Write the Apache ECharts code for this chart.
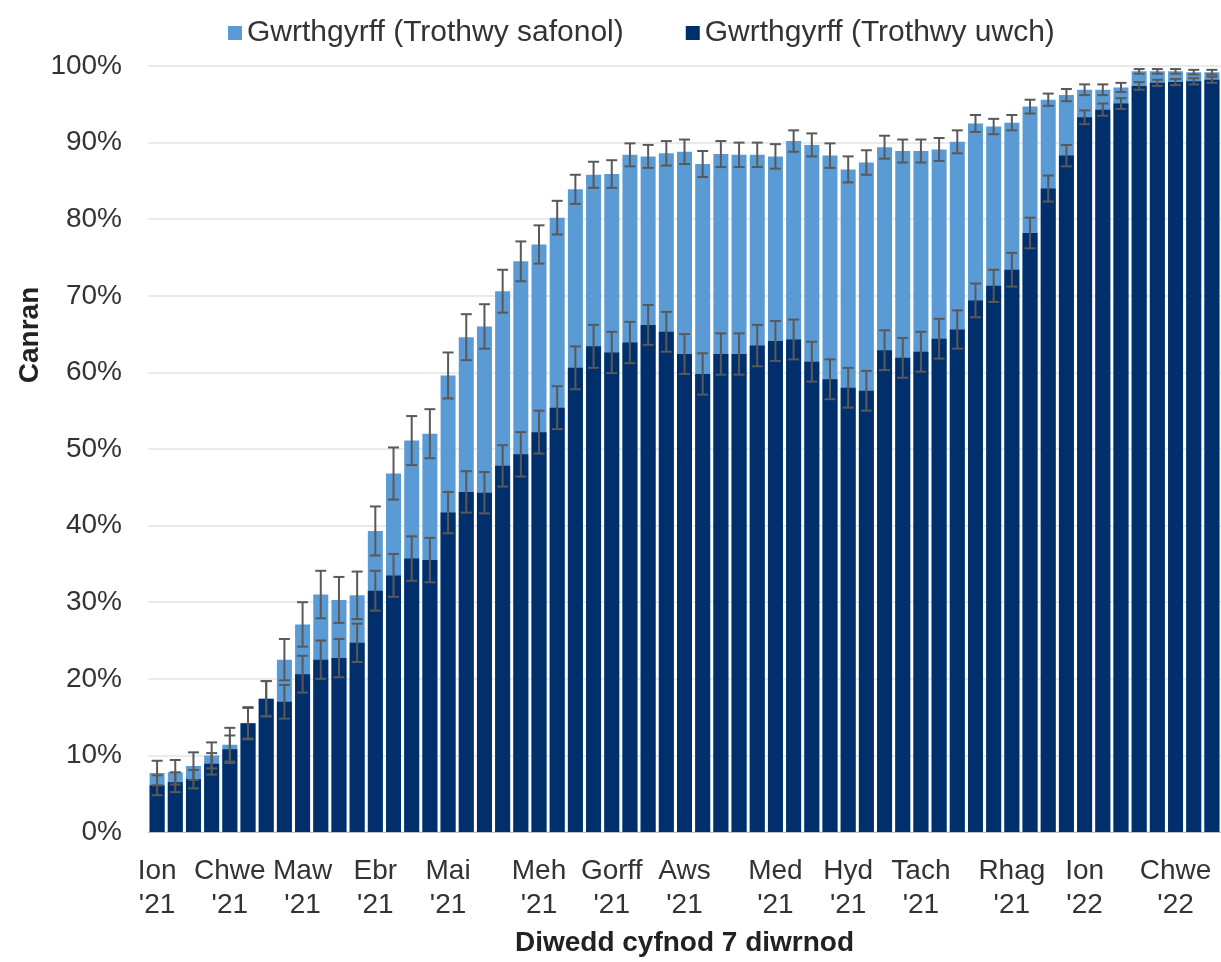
<!DOCTYPE html>
<html>
<head>
<meta charset="utf-8">
<title>Gwrthgyrff</title>
<script src="https://cdn.jsdelivr.net/npm/echarts@6/dist/echarts.min.js"></script>
<style>
  html, body { margin: 0; padding: 0; background: #fff; }
  #chart { width: 1221px; height: 962px; }
</style>
</head>
<body>
<div id="chart"></div>
<script>
  // canran gwrthgyrff, un bar y cyfnod 7 diwrnod (Ion '21 - Chwe '22)
  const safonol = [
    7.7, 7.8, 8.6, 10.0, 11.4, 14.2, 17.4, 22.5, 27.1, 31.0,
    30.3, 30.9, 39.3, 46.8, 51.1, 52.0, 59.6, 64.6, 66.0, 70.6,
    74.5, 76.7, 80.2, 83.9, 85.8, 85.9, 88.4, 88.2, 88.6, 88.8,
    87.2, 88.5, 88.4, 88.4, 88.2, 90.2, 89.7, 88.3, 86.5, 87.4,
    89.4, 88.9, 88.9, 89.1, 90.1, 92.5, 92.1, 92.6, 94.7, 95.6,
    96.2, 96.9, 96.9, 97.2, 99.3, 99.3, 99.3, 99.2, 99.2
  ]
  const uwch = [
    6.1, 6.5, 6.9, 8.9, 10.8, 14.2, 17.4, 17.0, 20.6, 22.5,
    22.7, 24.7, 31.5, 33.5, 35.7, 35.5, 41.7, 44.4, 44.3, 47.8,
    49.3, 52.2, 55.4, 60.6, 63.4, 62.6, 63.9, 66.2, 65.3, 62.4,
    59.8, 62.4, 62.4, 63.5, 64.1, 64.3, 61.4, 59.1, 58.0, 57.6,
    62.9, 61.9, 62.7, 64.4, 65.6, 69.4, 71.3, 73.4, 78.2, 84.0,
    88.3, 93.3, 94.3, 95.1, 97.4, 97.8, 97.9, 98.0, 98.2
  ]
  // hanner lled y bariau gwall (pwyntiau canran)
  const gwallSafonol = [
    1.6, 1.6, 1.8, 1.7, 2.2, 2.0, 2.3, 2.7, 2.9, 3.1,
    3.0, 3.1, 3.2, 3.4, 3.2, 3.2, 3.0, 3.0, 2.9, 2.8,
    2.6, 2.5, 2.2, 1.9, 1.7, 1.8, 1.5, 1.5, 1.6, 1.6,
    1.7, 1.7, 1.6, 1.6, 1.6, 1.4, 1.5, 1.6, 1.7, 1.6,
    1.5, 1.5, 1.5, 1.5, 1.5, 1.1, 1.0, 1.0, 0.9, 0.8,
    0.8, 0.7, 0.7, 0.6, 0.3, 0.3, 0.3, 0.3, 0.3
  ]
  const gwallUwch = [
    1.3, 1.3, 1.2, 1.4, 1.8, 2.1, 2.3, 2.2, 2.4, 2.5,
    2.5, 2.5, 2.6, 2.8, 2.9, 2.9, 2.7, 2.7, 2.7, 2.7,
    2.9, 2.8, 2.8, 2.8, 2.8, 2.7, 2.7, 2.6, 2.6, 2.6,
    2.7, 2.7, 2.7, 2.7, 2.6, 2.6, 2.6, 2.6, 2.6, 2.6,
    2.6, 2.6, 2.6, 2.6, 2.5, 2.2, 2.1, 2.2, 2.0, 1.7,
    1.4, 0.9, 0.8, 0.7, 0.5, 0.4, 0.4, 0.4, 0.4
  ]
  // labeli'r echel x: safle'r bar a'r testun
  const tickIdx = [0, 4, 8, 12, 16, 21, 25, 29, 34, 38, 42, 47, 51, 56]
  const tickText = [
    "Ion\n'21", "Chwe\n'21", "Maw\n'21", "Ebr\n'21", "Mai\n'21", "Meh\n'21", "Gorff\n'21",
    "Aws\n'21", "Med\n'21", "Hyd\n'21", "Tach\n'21", "Rhag\n'21", "Ion\n'22", "Chwe\n'22"
  ]
  const weeks = safonol.map((v, i) => 'w' + (i + 1))

  const FONT = '"Liberation Sans", Arial, sans-serif'
  const TEXT = '#333'

  //bar gwall: llinell fertigol + dau gap
  function errorBar(params, api) {
    const x = api.value(0)
    const lo = api.coord([x, api.value(1)])
    const hi = api.coord([x, api.value(2)])
    const half = 5.5
    const style = { stroke: '#595959', lineWidth: 2 }
    return {
      type: 'group',
      children: [
        { type: 'line', shape: { x1: hi[0], y1: hi[1], x2: lo[0], y2: lo[1] }, style: style },
        { type: 'line', shape: { x1: hi[0] - half, y1: hi[1], x2: hi[0] + half, y2: hi[1] }, style: style },
        { type: 'line', shape: { x1: lo[0] - half, y1: lo[1], x2: lo[0] + half, y2: lo[1] }, style: style }
      ]
    }
  }

  const chart = echarts.init(document.getElementById('chart'))
  chart.setOption({
    animation: false,
    textStyle: { fontFamily: FONT },
    grid: {
      left: 148,
      right: -4,
      top: 66,
      bottom: 122
    },
    legend: {
      top: 13,
      left: 223,
      itemWidth: 14,
      itemHeight: 14,
      itemGap: 62,
      icon: 'rect',
      textStyle: { fontSize: 30, color: TEXT, fontFamily: FONT },
      data: ['Gwrthgyrff (Trothwy safonol)', 'Gwrthgyrff (Trothwy uwch)']
    },
    xAxis: {
      type: 'category',
      data: weeks,
      name: 'Diwedd cyfnod 7 diwrnod',
      nameLocation: 'middle',
      nameGap: 97,
      nameTextStyle: { fontSize: 28, fontWeight: 'bold', color: '#222', fontFamily: FONT },
      axisLine: { lineStyle: { color: '#bfbfbf' } },
      axisTick: { show: false },
      axisLabel: {
        interval: 0,
        margin: 22,
        fontSize: 28,
        lineHeight: 34,
        color: TEXT,
        formatter: function (v, i) {
          const k = tickIdx.indexOf(i)
          return k >= 0 ? tickText[k] : ''
        }
      }
    },
    yAxis: {
      type: 'value',
      min: 0,
      max: 100,
      interval: 10,
      axisLine: { show: false },
      axisTick: { show: false },
      splitLine: { lineStyle: { color: '#e3e3e3', width: 1.5 } },
      axisLabel: { formatter: '{value}%', fontSize: 28, color: TEXT, margin: 26 }
    },
    graphic: [{
      type: 'text',
      x: 30,
      y: 335,
      rotation: Math.PI / 2,
      style: {
        text: 'Canran',
        font: 'bold 28px ' + FONT,
        fill: '#222',
        align: 'center',
        verticalAlign: 'middle'
      }
    }],
    series: [
      {
        name: 'Gwrthgyrff (Trothwy safonol)',
        type: 'bar',
        barWidth: 15,
        barGap: '-100%',
        itemStyle: { color: '#5b9bd5' },
        data: safonol
      },
      {
        name: 'Gwrthgyrff (Trothwy uwch)',
        type: 'bar',
        barWidth: 15,
        barGap: '-100%',
        itemStyle: { color: '#002f6c' },
        data: uwch
      },
      {
        name: 'gwall safonol',
        type: 'custom',
        renderItem: errorBar,
        encode: { x: 0, y: [1, 2] },
        silent: true,
        z: 10,
        data: safonol.map((v, i) => [i, v - gwallSafonol[i], v + gwallSafonol[i]])
      },
      {
        name: 'gwall uwch',
        type: 'custom',
        renderItem: errorBar,
        encode: { x: 0, y: [1, 2] },
        silent: true,
        z: 10,
        data: uwch.map((v, i) => [i, v - gwallUwch[i], v + gwallUwch[i]])
      }
    ]
  })
</script>
</body>
</html>
